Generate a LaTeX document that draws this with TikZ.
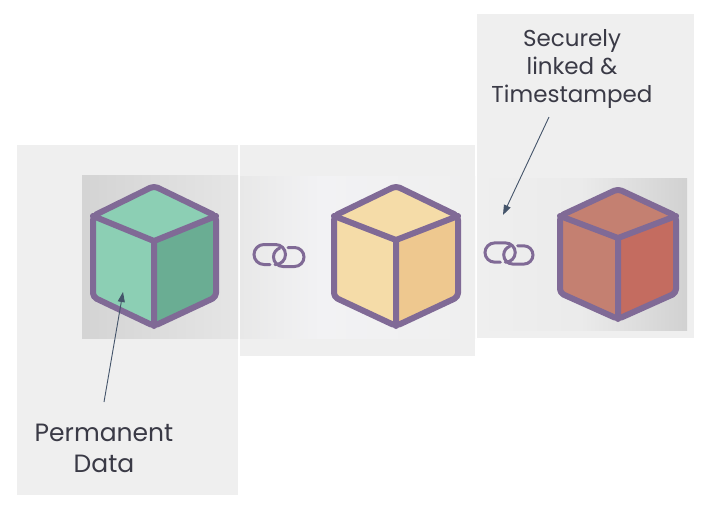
\documentclass[tikz,border=0pt]{standalone}
\usepackage{fontspec}
\setmainfont{Poppins}
\usetikzlibrary{arrows.meta}
\definecolor{panelc}{HTML}{EFEFEF}
\definecolor{edgec}{HTML}{806A96}
\definecolor{arrowc}{HTML}{44546A}
\definecolor{textc}{HTML}{3A3A46}
\definecolor{greenL}{HTML}{8CCFB4}
\definecolor{greenD}{HTML}{6AAD93}
\definecolor{sandL}{HTML}{F5DCA8}
\definecolor{sandD}{HTML}{EEC88F}
\definecolor{rustL}{HTML}{C48071}
\definecolor{rustD}{HTML}{C46C60}
\definecolor{midglow}{HTML}{F2F2F4}
\tikzset{
  x=1pt,y=-1pt,
  panel/.style={fill=panelc,draw=none},
  cubeedge/.style={draw=edgec,line width=6pt,line join=round,line cap=round},
  ringline/.style={draw=edgec,line width=3pt,line cap=round},
  pointer/.style={draw=arrowc,line width=0.9pt,-{Triangle[length=10pt,width=7pt]}},
  labeltext/.style={text=textc,align=center,inner sep=0pt},
  linkicon/.pic={
    \draw[ringline] (-9,9) -- (-15,9) arc[start angle=90,end angle=270,radius=10] -- (-3.5,-11) arc[start angle=-90,end angle=90,radius=10] -- (-4,9);
    \draw[ringline] (9,-8) -- (15.5,-8) arc[start angle=-90,end angle=90,radius=9.5] -- (4,11) arc[start angle=90,end angle=250,radius=9.5];
  }
}
% #1 top, #2 upper-left, #3 lower-left, #4 bottom, #5 lower-right, #6 upper-right, #7 centre, #8 light, #9 dark
\newcommand{\cubeicon}[9]{%
  \fill[#8] #1 -- #2 -- #3 -- #4 -- #7 -- #6 -- cycle;
  \fill[#9] #7 -- #4 -- #5 -- #6 -- cycle;
  \draw[cubeedge,rounded corners=4pt] #1 -- #2 -- #3 -- #4 -- #5 -- #6 -- cycle;
  \draw[cubeedge] #2 -- #7 -- #6 #7 -- #4;
}
\begin{document}
\begin{tikzpicture}
\useasboundingbox (0,0) rectangle (712,509);
\fill[white] (0,0) rectangle (712,509);
\fill[panel] (17,145) rectangle (238,495);
\fill[panel] (240,145) rectangle (475,356);
\fill[panel] (477,14) rectangle (694,338);
\shade[left color=black!17,right color=black!10] (82,175) rectangle (238,338);
\shade[left color=black!9,right color=midglow] (240,176) rectangle (320,338);
\shade[left color=midglow,right color=panelc] (320,176) rectangle (475,338);
\shade[left color=panelc,right color=black!18,middle color=black!8] (477,178) rectangle (687,330);
\cubeicon{(154,186)}{(93,216)}{(93,297)}{(154,326)}{(216,297)}{(216,216)}{(154,241)}{greenL}{greenD}
\cubeicon{(396,186)}{(334,216)}{(334,297)}{(396,326)}{(458,297)}{(458,216)}{(396,240)}{sandL}{sandD}
\cubeicon{(618,189)}{(560,216)}{(560,293)}{(618,319)}{(676,293)}{(676,216)}{(618,238)}{rustL}{rustD}
\pic at (279,255.5) {linkicon};
\pic[scale=0.96] at (509,253.5) {linkicon};
\node[labeltext,font=\fontsize{25}{31}\selectfont] (perm) at (104,448) {Permanent\\Data};
\node[labeltext,font=\fontsize{23}{28}\selectfont] (secure) at (572,68.5) {Securely\\linked \&\\Timestamped};
\coordinate (permtail) at (104,402);
\coordinate (permtip) at (123,292);
\coordinate (sectail) at (549,117);
\coordinate (sectip) at (503,215);
\draw[pointer] (permtail) -- (permtip);
\draw[pointer] (sectail) -- (sectip);
\end{tikzpicture}
\end{document}
